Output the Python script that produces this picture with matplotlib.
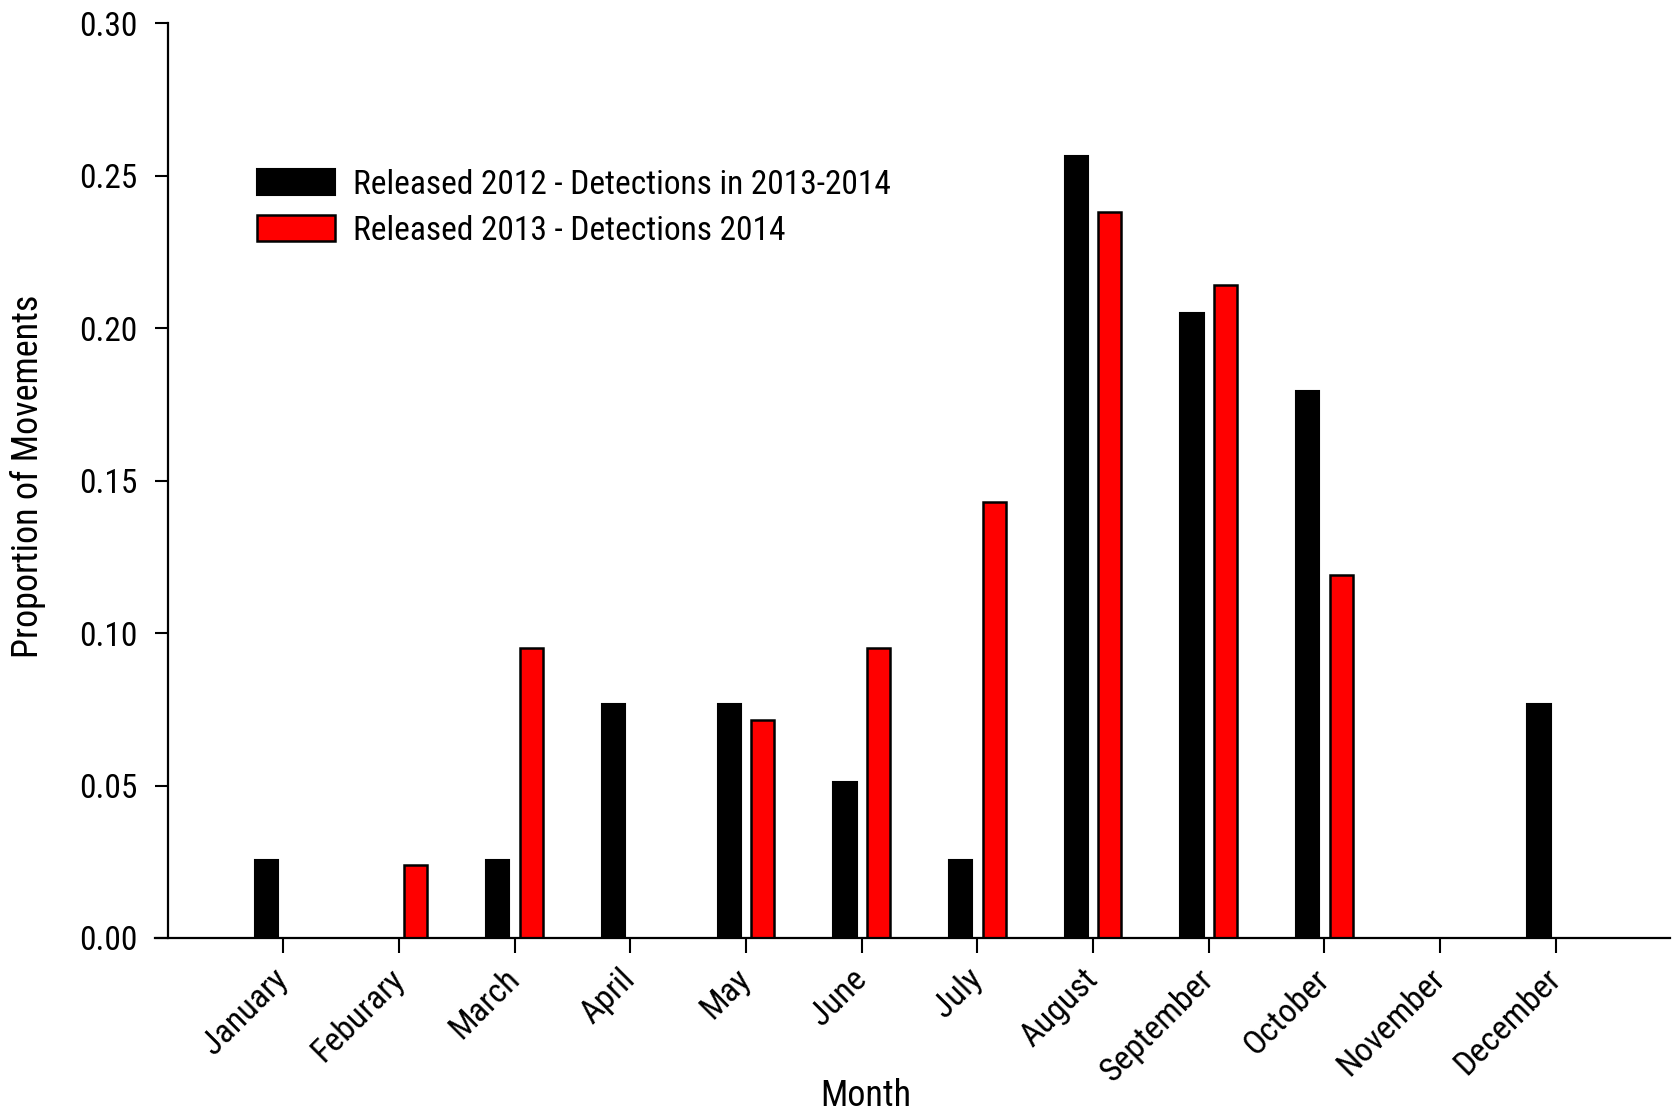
import matplotlib
matplotlib.use("Agg")
import matplotlib.pyplot as plt
from matplotlib import font_manager as fm
import numpy as np

months = ["January", "Feburary", "March", "April", "May", "June", "July",
          "August", "September", "October", "November", "December"]
released_2012 = [0.0256, 0.0, 0.0256, 0.0769, 0.0769, 0.0513, 0.0256,
                 0.2564, 0.2051, 0.1795, 0.0, 0.0769]
released_2013 = [0.0, 0.0238, 0.0952, 0.0, 0.0714, 0.0952, 0.1429,
                 0.2381, 0.2143, 0.1190, 0.0, 0.0]
labels = ["Released 2012 - Detections in 2013-2014", "Released 2013 - Detections 2014"]
yticks = [0.00, 0.05, 0.10, 0.15, 0.20, 0.25, 0.30]

# pick a condensed sans font if one is available
fonts = fm.fontManager.ttflist
names = {f.name for f in fonts}
family, stretch = None, 'normal'
for cand in ['Liberation Sans Narrow', 'Arial Narrow', 'Roboto Condensed',
             'Open Sans Condensed', 'Noto Sans Condensed', 'DejaVu Sans Condensed']:
    if cand in names:
        family = cand
        break
if family is None:
    family = 'Liberation Sans'
plt.rcParams['font.family'] = [family, 'DejaVu Sans']
plt.rcParams['font.stretch'] = stretch

fig = plt.figure(figsize=(16.77, 11.16), dpi=100)
ax = fig.add_axes([0.0924, 0.1595, 0.9036, 0.8195])

x = np.arange(len(months))
w = 0.2
off = 0.145
m12 = np.array(released_2012) > 0
m13 = np.array(released_2013) > 0
ax.bar(x[m12] - off, np.array(released_2012)[m12], width=w, color='black',
       edgecolor='black', linewidth=1.5, label=labels[0])
ax.bar(x[m13] + off, np.array(released_2013)[m13], width=w, color='#ff0000',
       edgecolor='black', linewidth=1.8, label=labels[1])

ax.set_xlim(-1.11, 11.99)
ax.set_ylim(0, 0.30)
ax.spines['top'].set_visible(False)
ax.spines['right'].set_visible(False)
ax.spines['left'].set_position(('data', -1.0))
for s in ('left', 'bottom'):
    ax.spines[s].set_linewidth(1.6)

ax.set_yticks(yticks)
ax.set_yticklabels([f"{v:.2f}" for v in yticks], fontsize=24)
ax.set_xticks(x)
ax.set_xticklabels(months, fontsize=24.5, rotation=45, ha='right', va='center',
                   rotation_mode='anchor')
ax.tick_params(axis='y', direction='out', length=9.5, width=1.5, pad=12)
ax.tick_params(axis='x', direction='out', length=11, width=1.5, pad=15)

ax.set_xlabel("Month", fontsize=26, va='center')
ax.xaxis.set_label_coords(0.469, -0.173)
ax.set_ylabel("Proportion of Movements", fontsize=26, va='center')
ax.yaxis.set_label_coords(-0.0838, 0.505)

ax.legend(loc='upper left', bbox_to_anchor=(0.153, 0.849),
          bbox_transform=fig.transFigure, frameon=False, fontsize=24,
          borderpad=0, borderaxespad=0, handlelength=2.35, handleheight=0.85,
          labelspacing=0.42, handletextpad=0.55)

fig.savefig("out.png", dpi=100)
